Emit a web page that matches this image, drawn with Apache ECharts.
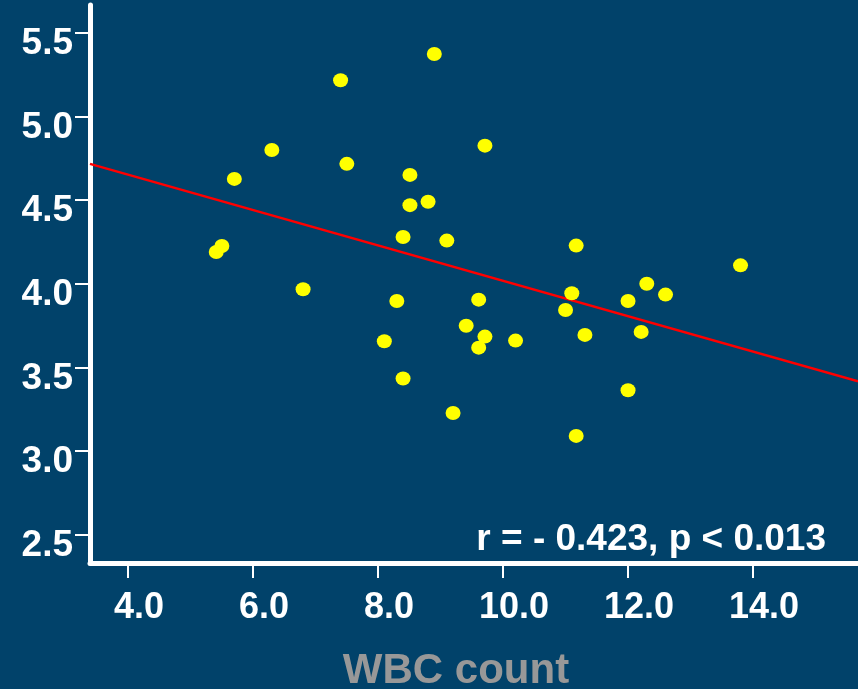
<!DOCTYPE html>
<html>
<head>
<meta charset="utf-8">
<script src="https://cdn.jsdelivr.net/npm/echarts@6/dist/echarts.min.js"></script>
<style>
html,body{margin:0;padding:0;background:#01426a;}
#chart{width:858px;height:689px;}
</style>
</head>
<body>
<div id="chart"></div>
<script>
// Data
var wbcCount = [5.41, 5.50, 5.70, 6.30, 6.80, 7.40, 7.50, 8.10, 8.30, 8.40, 8.40, 8.51, 8.51, 8.80, 8.90, 9.10, 9.20, 9.41, 9.61, 9.61, 9.71, 9.71, 10.20, 11.00, 11.10, 11.17, 11.17, 11.31, 12.00, 12.00, 12.21, 12.30, 12.60, 13.80];
var yValue   = [4.19, 4.226, 4.627, 4.80, 3.967, 5.217, 4.717, 3.656, 3.897, 4.28, 3.433, 4.651, 4.47, 4.49, 5.374, 4.258, 3.227, 3.749, 3.905, 3.618, 4.826, 3.684, 3.660, 3.843, 3.943, 4.228, 3.09, 3.694, 3.897, 3.363, 3.712, 4.0, 3.935, 4.11];
var fitLine  = [[3.39, 4.717], [15.68, 3.417]];
var xTicks = [4, 6, 8, 10, 12, 14];
var yTicks = [2.5, 3.0, 3.5, 4.0, 4.5, 5.0, 5.5];
var statText = 'r = - 0.423, p < 0.013';
var xTitle = 'WBC count';

var points = wbcCount.map(function (x, i) { return [x, yValue[i]]; });

var FONT = '"Liberation Sans", Arial, sans-serif';
var chart = echarts.init(document.getElementById('chart'), null, {renderer: 'canvas'});
chart.setOption({
  backgroundColor: '#01426a',
  animation: false,
  grid: {left: 90, right: 0, top: 5, bottom: 126, containLabel: false},
  xAxis: {
    type: 'value', min: 3.39, max: 15.68,
    axisLine: {show: true, lineStyle: {color: '#ffffff', width: 5}},
    axisTick: {show: true, customValues: xTicks, length: 15, lineStyle: {color: '#ffffff', width: 2}},
    axisLabel: {
      customValues: xTicks,
      formatter: function (v) { return Number(v).toFixed(1); },
      color: '#ffffff', fontSize: 36, fontWeight: 'bold', fontFamily: FONT,
      margin: 27, padding: [0, 0, 0, 22]
    },
    splitLine: {show: false}
  },
  yAxis: {
    type: 'value', min: 2.33, max: 5.667,
    axisLine: {show: true, lineStyle: {color: '#ffffff', width: 5}},
    axisTick: {show: true, customValues: yTicks, length: 15, lineStyle: {color: '#ffffff', width: 2}},
    axisLabel: {
      customValues: yTicks,
      formatter: function (v) { return Number(v).toFixed(1); },
      color: '#ffffff', fontSize: 37, fontWeight: 'bold', fontFamily: FONT,
      margin: 17, verticalAlign: 'top', lineHeight: 22
    },
    splitLine: {show: false}
  },
  series: [
    {
      type: 'line', data: fitLine, symbol: 'none', z: 1,
      lineStyle: {color: '#ff0000', width: 2.5}
    },
    {
      type: 'scatter', data: points, symbol: 'circle', symbolSize: [15, 14], z: 2,
      itemStyle: {color: '#ffff00', opacity: 1}
    }
  ],
  graphic: [
    {
      type: 'text', z: 10,
      style: {
        text: statText, x: 826, y: 540, textAlign: 'right', textVerticalAlign: 'middle',
        fill: '#ffffff', font: 'bold 37px ' + FONT
      }
    },
    {
      type: 'text', z: 10,
      style: {
        text: xTitle, x: 456, y: 671, textAlign: 'center', textVerticalAlign: 'middle',
        fill: '#989898', font: 'bold 42px ' + FONT
      }
    }
  ]
});
</script>
</body>
</html>
